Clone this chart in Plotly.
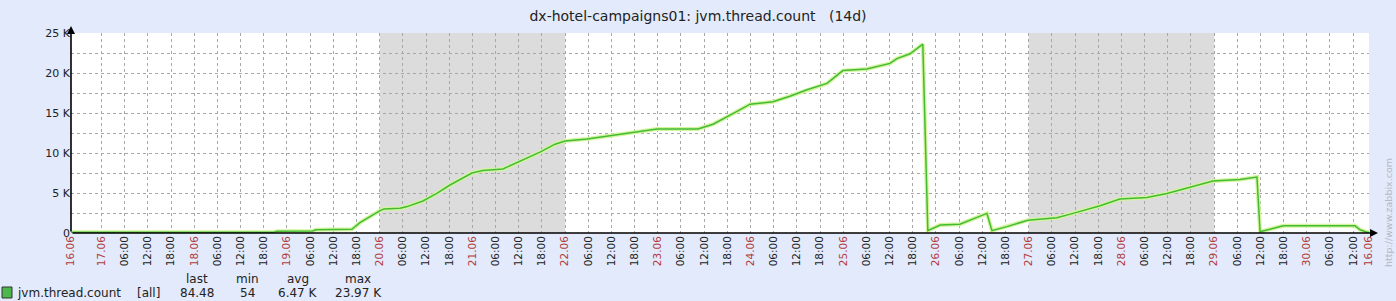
import plotly.graph_objects as go

# ---- data ----
times = [
    "2020-06-16 16:06", "2020-06-18 20:39", "2020-06-18 21:24", "2020-06-19 06:42",
    "2020-06-19 07:30", "2020-06-19 16:48", "2020-06-19 18:54", "2020-06-19 21:30",
    "2020-06-20 00:06", "2020-06-20 01:06", "2020-06-20 05:18", "2020-06-20 07:06",
    "2020-06-20 11:12", "2020-06-20 14:48", "2020-06-20 18:12", "2020-06-20 23:54",
    "2020-06-21 02:42", "2020-06-21 07:54", "2020-06-21 13:06", "2020-06-21 17:30",
    "2020-06-21 21:24", "2020-06-22 00:00", "2020-06-22 05:42", "2020-06-22 12:24",
    "2020-06-22 20:12", "2020-06-22 23:48", "2020-06-23 10:24", "2020-06-23 14:18",
    "2020-06-23 20:30", "2020-06-23 23:54", "2020-06-24 05:48", "2020-06-24 10:12",
    "2020-06-24 14:36", "2020-06-24 19:48", "2020-06-24 23:54", "2020-06-25 06:06",
    "2020-06-25 12:06", "2020-06-25 13:54", "2020-06-25 17:18", "2020-06-25 20:36",
    "2020-06-25 21:54", "2020-06-26 01:06", "2020-06-26 06:12", "2020-06-26 12:12",
    "2020-06-26 13:12", "2020-06-26 14:30", "2020-06-26 18:24", "2020-06-26 23:48",
    "2020-06-27 07:18", "2020-06-27 11:30", "2020-06-27 18:30", "2020-06-27 23:36",
    "2020-06-28 06:36", "2020-06-28 11:48", "2020-06-28 17:00", "2020-06-28 23:42",
    "2020-06-29 06:42", "2020-06-29 11:06", "2020-06-29 11:54", "2020-06-29 17:54",
    "2020-06-30 12:30", "2020-06-30 13:48", "2020-06-30 15:36", "2020-06-30 16:06",
]
thread_count = [
    80, 100, 230, 260,
    400, 470, 1300, 2100,
    2800, 3000, 3100, 3300,
    4000, 4950, 6000, 7500,
    7800, 8000, 9100, 10100,
    11100, 11500, 11750, 12200,
    12800, 13000, 13000, 13600,
    15200, 16100, 16400, 17100,
    17900, 18700, 20300, 20500,
    21200, 21800, 22400, 23600,
    300, 1000, 1100, 2250,
    2450, 300, 800, 1600,
    1900, 2450, 3400, 4250,
    4450, 4950, 5600, 6500,
    6700, 7000, 160, 900,
    900, 400, 84.48, 84.48,
]

range_start = "2020-06-16 16:06"
range_end = "2020-06-30 16:06"

weekend_starts = ["2020-06-20 00:00", "2020-06-27 00:00"]
weekend_ends = ["2020-06-22 00:00", "2020-06-29 00:00"]

day_dates = ["2020-06-%02d" % d for d in range(17, 31)]
day_labels = ["%02d.06" % d for d in range(17, 31)]
hour_labels = ["06:00", "12:00", "18:00"]
start_label = "16.06"
end_label = "16.06"

y_tickvals = [0, 2500, 5000, 7500, 10000, 12500, 15000, 17500, 20000, 22500, 25000]
y_ticktext = ["0", "", "5 K", "", "10 K", "", "15 K", "", "20 K", "", "25 K"]

legend_item = "jvm.thread.count"
legend_func = "[all]"
stat_names = ["last", "min", "avg", "max"]
stat_values = ["84.48", "54", "6.47 K", "23.97 K"]

title_text = "dx-hotel-campaigns01: jvm.thread.count\u00a0\u00a0\u00a0(14d)"

# ---- styles ----
RED = "#b23a3a"
BG = "#e2eafb"
GRID = "#a8a8a8"
LINE = "#44bb36"
FONT = "DejaVu Sans"

W, H = 1396, 301
L, R, T, B = 71, 27, 33, 68
PW, PH = W - L - R, H - T - B


def pxp(x):
    return (x - L) / PW


def pyp(y):
    return (T + PH - y) / PH


# x ticks
x_tickvals = [range_start]
x_ticktext = ["<span style='color:%s'>%s</span>" % (RED, start_label)]
for d, lab in zip(day_dates, day_labels):
    x_tickvals.append(d + " 00:00")
    x_ticktext.append("<span style='color:%s'>%s</span>" % (RED, lab))
    for hl in hour_labels:
        t = d + " " + hl
        if t < range_end:
            x_tickvals.append(t)
            x_ticktext.append(hl)
x_tickvals.append(range_end)
x_ticktext.append("<span style='color:%s'>%s</span>" % (RED, end_label))

fig = go.Figure()

fig.add_trace(go.Scatter(x=times, y=thread_count, mode="lines",
                         line=dict(color="#d2f59c", width=4), hoverinfo="skip",
                         showlegend=False))
fig.add_trace(go.Scatter(x=times, y=thread_count, mode="lines",
                         line=dict(color=LINE, width=1.5), name=legend_item,
                         showlegend=False))

shapes = []
for s, e in zip(weekend_starts, weekend_ends):
    shapes.append(dict(type="rect", xref="x", yref="paper", x0=s, x1=e, y0=0, y1=1,
                       fillcolor="#dcdcdc", line=dict(width=0), layer="below"))
# legend colour box
shapes.append(dict(type="rect", xref="paper", yref="paper",
                   x0=pxp(2), x1=pxp(12), y0=pyp(298), y1=pyp(287),
                   fillcolor="#4cb84c", line=dict(color="#333333", width=1)))

ann = []
# axes arrows
ann.append(dict(xref="paper", yref="paper", x=pxp(71), y=pyp(26), ax=0, ay=207,
                axref="pixel", ayref="pixel", showarrow=True, arrowhead=2,
                arrowsize=1, arrowwidth=1.6, arrowcolor="#000000", text=""))
ann.append(dict(xref="paper", yref="paper", x=pxp(1378), y=pyp(233), ax=-1307, ay=0,
                axref="pixel", ayref="pixel", showarrow=True, arrowhead=2,
                arrowsize=1, arrowwidth=1.6, arrowcolor="#000000", text=""))
# watermark
ann.append(dict(xref="paper", yref="paper", x=pxp(1388), y=pyp(212),
                text="http://www.zabbix.com", showarrow=False, textangle=-90,
                font=dict(family=FONT, size=9.5, color="#b4b8c4"),
                xanchor="center", yanchor="middle"))
# legend text
ann.append(dict(xref="paper", yref="paper", x=pxp(15), y=pyp(292.5), text=legend_item,
                showarrow=False, xanchor="left", yanchor="middle",
                font=dict(family=FONT, size=12, color="#222222")))
ann.append(dict(xref="paper", yref="paper", x=pxp(148), y=pyp(292.5), text=legend_func,
                showarrow=False, xanchor="center", yanchor="middle",
                font=dict(family=FONT, size=12, color="#222222")))
stat_x = [197, 247, 298, 358]
for name, val, sx in zip(stat_names, stat_values, stat_x):
    ann.append(dict(xref="paper", yref="paper", x=pxp(sx), y=pyp(278.5), text=name,
                    showarrow=False, xanchor="center", yanchor="middle",
                    font=dict(family=FONT, size=12, color="#222222")))
    ann.append(dict(xref="paper", yref="paper", x=pxp(sx), y=pyp(292.5), text=val,
                    showarrow=False, xanchor="center", yanchor="middle",
                    font=dict(family=FONT, size=12, color="#222222")))

fig.update_layout(
    width=W, height=H,
    margin=dict(l=L, r=R, t=T, b=B, pad=0),
    paper_bgcolor=BG, plot_bgcolor="#ffffff",
    title=dict(text=title_text, x=0.5, xref="container", xanchor="center",
               y=1 - 16 / H, yref="container", yanchor="middle",
               font=dict(family=FONT, size=14, color="#222222")),
    shapes=shapes, annotations=ann,
    xaxis=dict(type="date", range=[range_start, range_end], tickmode="array",
               tickvals=x_tickvals, ticktext=x_ticktext, tickangle=-90,
               showgrid=True, gridcolor=GRID, griddash="dot", gridwidth=1,
               zeroline=False, showline=False, ticks="",
               tickfont=dict(family=FONT, size=10.5, color="#222222")),
    yaxis=dict(range=[0, 25000], tickmode="array", tickvals=y_tickvals,
               ticktext=y_ticktext, showgrid=True, gridcolor=GRID, griddash="dot",
               gridwidth=1, zeroline=False, showline=False, ticks="",
               tickfont=dict(family=FONT, size=11, color="#222222")),
    showlegend=False,
)

fig.write_html("out.html")
